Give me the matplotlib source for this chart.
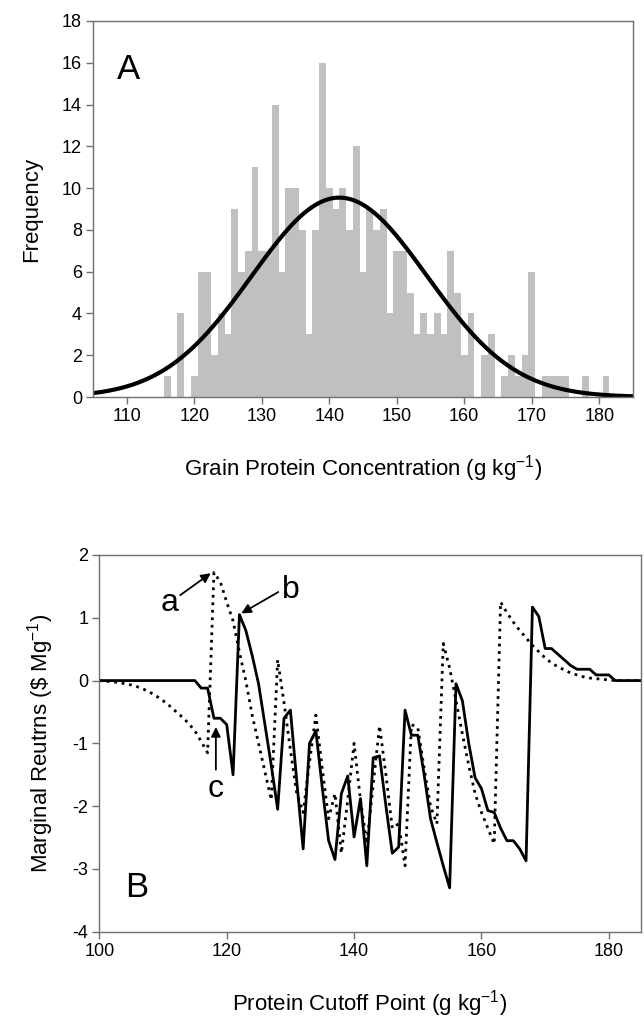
import numpy as np
import matplotlib
matplotlib.use("Agg")
import matplotlib.pyplot as plt

plt.rcParams['font.family'] = ['Liberation Sans', 'DejaVu Sans']
plt.rcParams['mathtext.fontset'] = 'custom'
plt.rcParams['mathtext.rm'] = 'Liberation Sans'
plt.rcParams['mathtext.it'] = 'Liberation Sans:italic'
plt.rcParams['axes.unicode_minus'] = False

# histogram of grain protein (bins of 1 g/kg, centres 116..181)
protein_bins = list(range(116, 182))
frequency = [1, 0, 4, 0, 1, 6, 6, 2, 4, 3,
             9, 6, 7, 11, 7, 7, 14, 6, 10, 10,
             8, 3, 8, 16, 10, 9, 10, 8, 12, 6,
             9, 8, 9, 4, 7, 7, 5, 3, 4, 3,
             4, 3, 7, 5, 2, 4, 0, 2, 3, 0,
             1, 2, 1, 2, 6, 0, 1, 1, 1, 1,
             0, 0, 1, 0, 0, 1]
# fitted normal curve parameters
fit_mean = 141.5
fit_sd = 13.0
fit_n = 311

# marginal returns vs cutoff point (100..185)
cutoff = list(range(100, 186))
returns_solid = [0] * 15 + [
    0, -0.12, -0.12, -0.6, -0.6, -0.7, -1.5, 1.05, 0.8, 0.4,
    -0.05, -0.7, -1.35, -2.05, -0.6, -0.47, -1.6, -2.68, -1.0, -0.8,
    -1.7, -2.55, -2.85, -1.8, -1.52, -2.49, -1.88, -2.95, -1.23, -1.2,
    -2.0, -2.75, -2.65, -0.47, -0.87, -0.87, -1.5, -2.2, -2.58, -2.95,
    -3.3, -0.05, -0.32, -1.0, -1.55, -1.72, -2.07, -2.1, -2.35, -2.55,
    -2.55, -2.68, -2.87, 1.17, 1.02, 0.51, 0.51, 0.42, 0.33, 0.24,
    0.18, 0.18, 0.18, 0.09, 0.09, 0.09, 0, 0, 0, 0, 0]
returns_dotted = [
    0, -0.01, -0.02, -0.03, -0.05, -0.07, -0.1, -0.14, -0.19, -0.25,
    -0.32, -0.4, -0.49, -0.58, -0.68, -0.8, -0.97, -1.15, 1.72, 1.57,
    1.25, 0.95, 0.45, 0.0, -0.55, -1.0, -1.45, -1.9, 0.33, -0.35,
    -1.1, -1.8, -2.1, -1.3, -0.55, -1.4, -2.2, -1.8, -2.75, -1.9,
    -1.0, -1.9, -2.6, -1.65, -0.72, -1.5, -2.35, -2.28, -2.95, -0.7,
    -0.75, -1.4, -2.0, -2.28, 0.59, 0.2, -0.32, -0.85, -1.35, -1.8,
    -2.1, -2.35, -2.6, 1.25, 1.08, 0.93, 0.8, 0.68, 0.56, 0.46,
    0.36, 0.28, 0.22, 0.17, 0.12, 0.09, 0.06, 0.04, 0.03, 0.02,
    0.01, 0, 0, 0, 0, 0]

spine_col = '#707070'

fig = plt.figure(figsize=(6.44, 10.23), dpi=100)

# ---- panel A
ax1 = fig.add_axes([0.1444, 0.6119, 0.8385, 0.3676])
ax1.bar(protein_bins, frequency, width=1.0, color='#c0c0c0', linewidth=0)
xs = np.linspace(105, 185, 400)
curve = fit_n / (fit_sd * np.sqrt(2 * np.pi)) * np.exp(-(xs - fit_mean) ** 2 / (2 * fit_sd ** 2))
ax1.plot(xs, curve, color='black', lw=3.0, solid_capstyle='round')
ax1.set_xlim(105, 185)
ax1.set_ylim(0, 18)
ax1.set_xticks(range(110, 181, 10))
ax1.set_yticks(range(0, 19, 2))
ax1.set_xlabel('Grain Protein Concentration (g kg$^{-1}$)', fontsize=16, labelpad=20)
ax1.set_ylabel('Frequency', fontsize=16, labelpad=14)
ax1.text(110.3, 15.7, 'A', fontsize=25, ha='center', va='center')

# ---- panel B
ax2 = fig.add_axes([0.1542, 0.0892, 0.8407, 0.3683])
ax2.plot(cutoff, returns_dotted, color='black', lw=2.0, linestyle=(0, (1, 1.7)))
ax2.plot(cutoff, returns_solid, color='black', lw=2.0)
ax2.set_xlim(100, 185)
ax2.set_ylim(-4, 2)
ax2.set_xticks(range(100, 181, 20))
ax2.set_yticks(range(-4, 3))
ax2.set_xlabel('Protein Cutoff Point (g kg$^{-1}$)', fontsize=16, labelpad=20)
ax2.set_ylabel('Marginal Reutrns (\\$ Mg$^{-1}$)', fontsize=16, labelpad=12)
ax2.text(105.9, -3.29, 'B', fontsize=25, ha='center', va='center')

arrow = dict(arrowstyle='-|>', color='black', lw=1.3, mutation_scale=14, shrinkA=0, shrinkB=0)
ax2.annotate('', xy=(117.5, 1.71), xytext=(112.7, 1.36), arrowprops=arrow)
ax2.text(111.0, 1.24, 'a', fontsize=23, ha='center', va='center')
ax2.annotate('', xy=(122.3, 1.07), xytext=(128.1, 1.41), arrowprops=arrow)
ax2.text(130.0, 1.44, 'b', fontsize=23, ha='center', va='center')
ax2.annotate('', xy=(118.3, -0.74), xytext=(118.3, -1.42), arrowprops=arrow)
ax2.text(118.3, -1.72, 'c', fontsize=23, ha='center', va='center')

for ax in (ax1, ax2):
    for s in ax.spines.values():
        s.set_color(spine_col)
        s.set_linewidth(1.0)
    ax.tick_params(direction='out', length=5, width=1, color=spine_col,
                   labelsize=13, pad=3)

fig.savefig('out.png', dpi=100)
